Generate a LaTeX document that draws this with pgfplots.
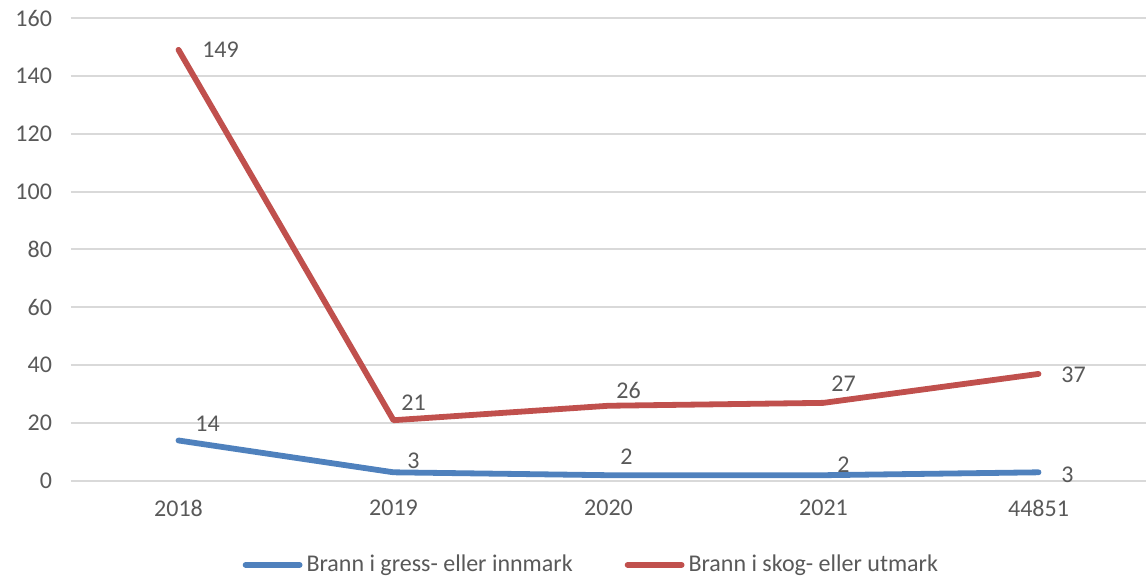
\documentclass[border=0pt]{standalone}
\usepackage{pgfplots}
\pgfplotsset{compat=1.18}
\usepackage{pgfplotstable}
\usepackage{fontspec}
\setmainfont{Carlito}
\definecolor{txt}{HTML}{595959}
\definecolor{grd}{HTML}{D9D9D9}
\definecolor{cblue}{HTML}{4F81BD}
\definecolor{cred}{HTML}{C0504D}
\pgfplotstableread{
x y dx dy
0 14 14.5 8.5
1 3 10 6
2 2 9 9
3 2 10 5
4 3 14.5 -1
}\blue
\pgfplotstableread{
x y dx dy
0 149 21 0
1 21 10 9
2 26 10 7.5
3 27 10 9.5
4 37 17.5 -0.5
}\red
\begin{document}
\begin{tikzpicture}
\begin{axis}[
  scale only axis,
  width=537.5pt, height=231.5pt,
  xmin=-0.5, xmax=4.5, ymin=0, ymax=160,
  xtick={0,1,2,3,4},
  xticklabels={2018,2019,2020,2021,44851},
  ytick={0,20,...,160},
  axis line style={draw=none},
  major tick length=0pt,
  ymajorgrids, grid style={grd, line width=1pt},
  tick label style={font=\fontsize{12pt}{14pt}\selectfont, text=txt},
  /pgf/number format/assume math mode=true,
  xticklabel style={yshift=-6pt},
  yticklabel style={xshift=-6pt},
  legend style={draw=none, at={(rel axis cs:0.485,-0.181)}, anchor=center,
    font=\fontsize{12pt}{14pt}\selectfont, text=txt, legend columns=2,
    /tikz/every even column/.append style={column sep=24pt}},
  legend image code/.code={\draw[#1, line cap=round] (0pt,0pt) -- (27pt,0pt);},
  nodes near coords,
  visualization depends on={\thisrow{dx} \as \dx},
  visualization depends on={\thisrow{dy} \as \dy},
  every node near coord/.append style={anchor=center, xshift=\dx pt, yshift=\dy pt,
    font=\fontsize{12pt}{14pt}\selectfont, text=txt},
  clip=false,
]
\addplot[cblue, line width=2.9pt, line cap=round, line join=round] table[x=x,y=y] {\blue};
\addlegendentry{Brann i gress- eller innmark}
\addplot[cred, line width=2.9pt, line cap=round, line join=round] table[x=x,y=y] {\red};
\addlegendentry{Brann i skog- eller utmark}
\coordinate (bl) at (rel axis cs:0,0);
\coordinate (tr) at (rel axis cs:1,1);
\end{axis}
\pgfresetboundingbox
\path ([shift={(-35.5pt,-48pt)}]bl) rectangle ([shift={(0pt,9pt)}]tr);
\end{tikzpicture}
\end{document}
